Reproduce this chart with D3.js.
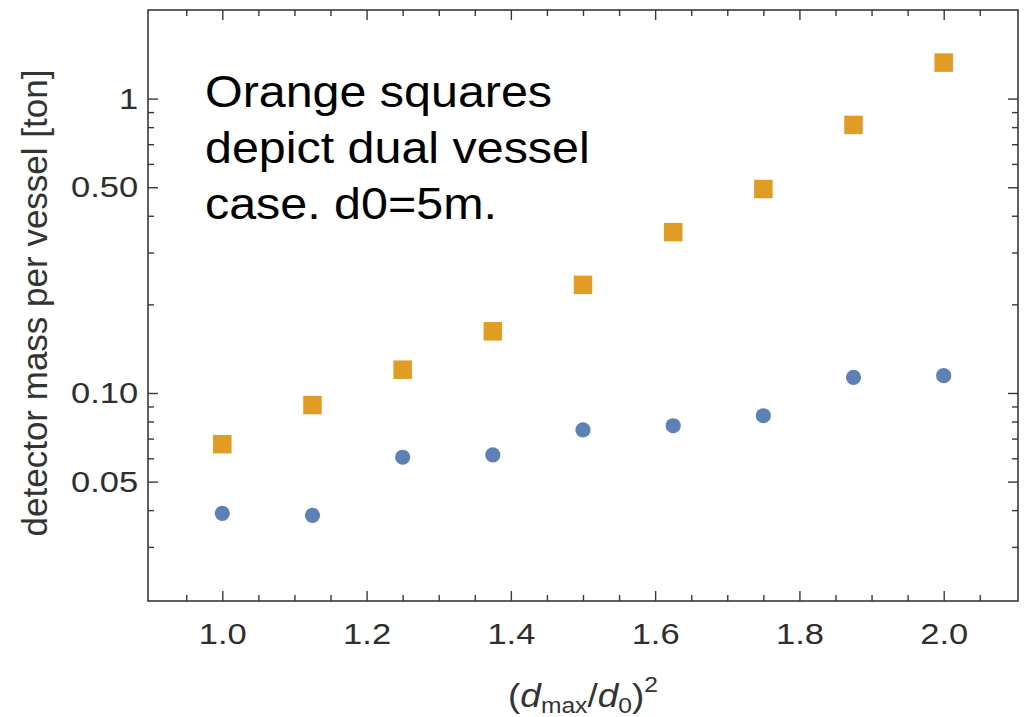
<!DOCTYPE html>
<html>
<head>
<meta charset="utf-8">
<script src="https://cdn.jsdelivr.net/npm/d3@7"></script>
<style>
  body { margin: 0; background: #fff; }
  svg { display: block; font-family: "Liberation Sans", Arial, sans-serif; }
</style>
</head>
<body>
<div id="canvas"></div>
<script>
// data
const ratioSq = [1, 1.125, 1.25, 1.375, 1.5, 1.625, 1.75, 1.875, 2];
const dualVessel = [0.067, 0.091, 0.120, 0.162, 0.233, 0.352, 0.493, 0.814, 1.325];
const singleVessel = [0.039, 0.0384, 0.0605, 0.0616, 0.0749, 0.0774, 0.0837, 0.113, 0.1145];

const xMajor = [1.0, 1.2, 1.4, 1.6, 1.8, 2.0];
const xMinor = [0.95, 1.05, 1.1, 1.15, 1.25, 1.3, 1.35, 1.45, 1.5, 1.55, 1.65, 1.7, 1.75, 1.85, 1.9, 1.95, 2.05];
const yMajor = [0.05, 0.1, 0.5, 1];
const yMajorLabels = ["0.05", "0.10", "0.50", "1"];
const yMinor = [0.03, 0.04, 0.06, 0.07, 0.08, 0.09, 0.2, 0.3, 0.4, 0.6, 0.7, 0.8, 0.9];

const note = ["Orange squares", "depict dual vessel", "case. d0=5m."];

const width = 1025, height = 717;
const margin = { left: 148, right: 1018, top: 10, bottom: 601 };
const frameColor = "#383838";

const svg = d3.select("#canvas").append("svg")
  .attr("width", width)
  .attr("height", height);

const x = d3.scaleLinear().domain([0.897, 2.103]).range([margin.left, margin.right]);
const y = d3.scaleLog().domain([0.01965, 2.0]).range([margin.bottom, margin.top]);

function styleAxis(g) {
  g.select(".domain").remove();
  g.selectAll(".tick line").attr("stroke", frameColor).attr("stroke-width", 1.4);
  g.attr("font-family", null).attr("font-size", 30);
  g.selectAll(".tick text").attr("fill", "#2e2e2e");
}

// bottom
svg.append("g").attr("transform", `translate(0,${margin.bottom})`)
  .call(d3.axisBottom(x).tickValues(xMajor).tickSizeInner(-10).tickSizeOuter(0)
    .tickPadding(22).tickFormat(d3.format(".1f")))
  .call(styleAxis)
  .selectAll(".tick text").attr("transform", "scale(1.15,1)");
svg.append("g").attr("transform", `translate(0,${margin.bottom})`)
  .call(d3.axisBottom(x).tickValues(xMinor).tickSizeInner(-6).tickSizeOuter(0).tickFormat(""))
  .call(styleAxis);

// top
svg.append("g").attr("transform", `translate(0,${margin.top})`)
  .call(d3.axisTop(x).tickValues(xMajor).tickSizeInner(-10).tickSizeOuter(0).tickFormat(""))
  .call(styleAxis);
svg.append("g").attr("transform", `translate(0,${margin.top})`)
  .call(d3.axisTop(x).tickValues(xMinor).tickSizeInner(-6).tickSizeOuter(0).tickFormat(""))
  .call(styleAxis);

// left
svg.append("g").attr("transform", `translate(${margin.left},0)`)
  .call(d3.axisLeft(y).tickValues(yMajor).tickSizeInner(-10).tickSizeOuter(0)
    .tickPadding(8.5).tickFormat((d, i) => yMajorLabels[i]))
  .call(styleAxis)
  .selectAll(".tick text").attr("transform", "scale(1.15,1)");
svg.append("g").attr("transform", `translate(${margin.left},0)`)
  .call(d3.axisLeft(y).tickValues(yMinor).tickSizeInner(-6).tickSizeOuter(0).tickFormat(""))
  .call(styleAxis);

// right
svg.append("g").attr("transform", `translate(${margin.right},0)`)
  .call(d3.axisRight(y).tickValues(yMajor).tickSizeInner(-10).tickSizeOuter(0).tickFormat(""))
  .call(styleAxis);
svg.append("g").attr("transform", `translate(${margin.right},0)`)
  .call(d3.axisRight(y).tickValues(yMinor).tickSizeInner(-6).tickSizeOuter(0).tickFormat(""))
  .call(styleAxis);

// frame
svg.append("rect")
  .attr("x", margin.left).attr("y", margin.top)
  .attr("width", margin.right - margin.left).attr("height", margin.bottom - margin.top)
  .attr("fill", "none")
  .attr("stroke", frameColor)
  .attr("stroke-width", 1.6);

// single vessel (blue circles)
svg.append("g").selectAll("circle")
  .data(ratioSq.map((r, i) => [r, singleVessel[i]]))
  .enter().append("circle")
  .attr("cx", d => x(d[0]))
  .attr("cy", d => y(d[1]))
  .attr("r", 7.6)
  .attr("fill", "#5E81B5");

// dual vessel (orange squares)
const sq = 18.5;
svg.append("g").selectAll("rect")
  .data(ratioSq.map((r, i) => [r, dualVessel[i]]))
  .enter().append("rect")
  .attr("x", d => x(d[0]) - sq / 2)
  .attr("y", d => y(d[1]) - sq / 2)
  .attr("width", sq)
  .attr("height", sq)
  .attr("fill", "#E19C24");

// annotation
svg.append("g").selectAll("text")
  .data(note)
  .enter().append("text")
  .attr("transform", (d, i) => `translate(205,${107 + i * 56}) scale(1.1,1)`)
  .attr("font-size", 44)
  .attr("fill", "#000")
  .text(d => d);

// y title
svg.append("text")
  .attr("transform", "translate(47,303) rotate(-90)")
  .attr("text-anchor", "middle")
  .attr("font-size", 35)
  .attr("fill", "#333")
  .text("detector mass per vessel [ton]");

// x title
const xt = svg.append("text")
  .attr("transform", `translate(${(margin.left + margin.right) / 2},707) scale(1.12,1)`)
  .attr("text-anchor", "middle")
  .attr("font-size", 33)
  .attr("fill", "#333");
xt.append("tspan").text("(");
xt.append("tspan").attr("font-style", "italic").text("d");
xt.append("tspan").attr("font-size", 22).attr("dy", 6).text("max");
xt.append("tspan").attr("dy", -6).text("/");
xt.append("tspan").attr("font-style", "italic").text("d");
xt.append("tspan").attr("font-size", 22).attr("dy", 6).text("0");
xt.append("tspan").attr("dy", -6).text(")");
xt.append("tspan").attr("font-size", 22).attr("dy", -15).text("2");
</script>
</body>
</html>
